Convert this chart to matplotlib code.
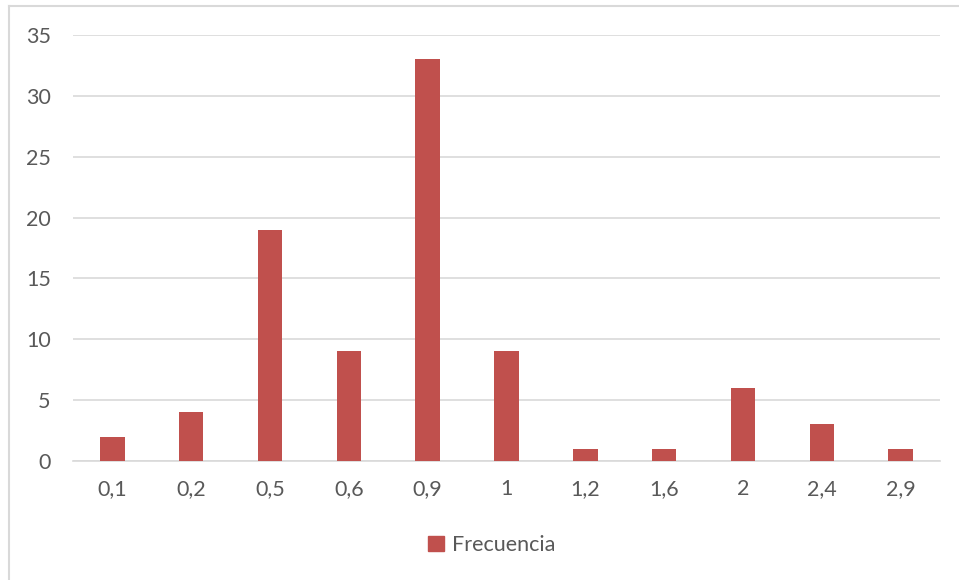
import matplotlib.pyplot as plt
from matplotlib.lines import Line2D
from matplotlib.patches import Patch

categorias = ['0,1', '0,2', '0,5', '0,6', '0,9', '1', '1,2', '1,6', '2', '2,4', '2,9']
frecuencia = [2, 4, 19, 9, 33, 9, 1, 1, 6, 3, 1]

plt.rcParams['font.family'] = ['Lato', 'DejaVu Sans']
gris = '#595959'
rojo = '#C0504D'

fig = plt.figure(figsize=(9.59, 5.8), dpi=100)
ax = fig.add_axes([73 / 959, 1 - 461 / 580, 867 / 959, 426 / 580])

x = range(len(categorias))
ax.bar(x, frecuencia, width=0.31, color=rojo, zorder=3)

ax.set_xlim(-0.5, len(categorias) - 0.5)
ax.set_ylim(0, 35)
ax.set_yticks(range(0, 36, 5))
ax.set_xticks(list(x))
ax.set_xticklabels(categorias)
ax.yaxis.grid(True, color='#D9D9D9', linewidth=1.2, zorder=0)
for s in ['top', 'right', 'left']:
    ax.spines[s].set_visible(False)
ax.spines['bottom'].set_color('#D9D9D9')
ax.spines['bottom'].set_linewidth(1.2)
ax.tick_params(axis='both', length=0, labelsize=15.5, colors=gris)
ax.tick_params(axis='y', pad=16)
ax.tick_params(axis='x', pad=13)

# borde del gráfico
fig.add_artist(Line2D([9 / 959, 9 / 959], [0, 1 - 6 / 580], color='#D9D9D9', lw=1.5))
fig.add_artist(Line2D([9 / 959, 1], [1 - 6 / 580, 1 - 6 / 580], color='#D9D9D9', lw=1.5))

fig.legend(handles=[Patch(color=rojo, label='Frecuencia')], loc='center',
           bbox_to_anchor=(492 / 959, 1 - 545 / 580), frameon=False, fontsize=15.5,
           labelcolor=gris, handlelength=0.7, handleheight=0.7, handletextpad=0.4)

fig.savefig('out.png', dpi=100)
